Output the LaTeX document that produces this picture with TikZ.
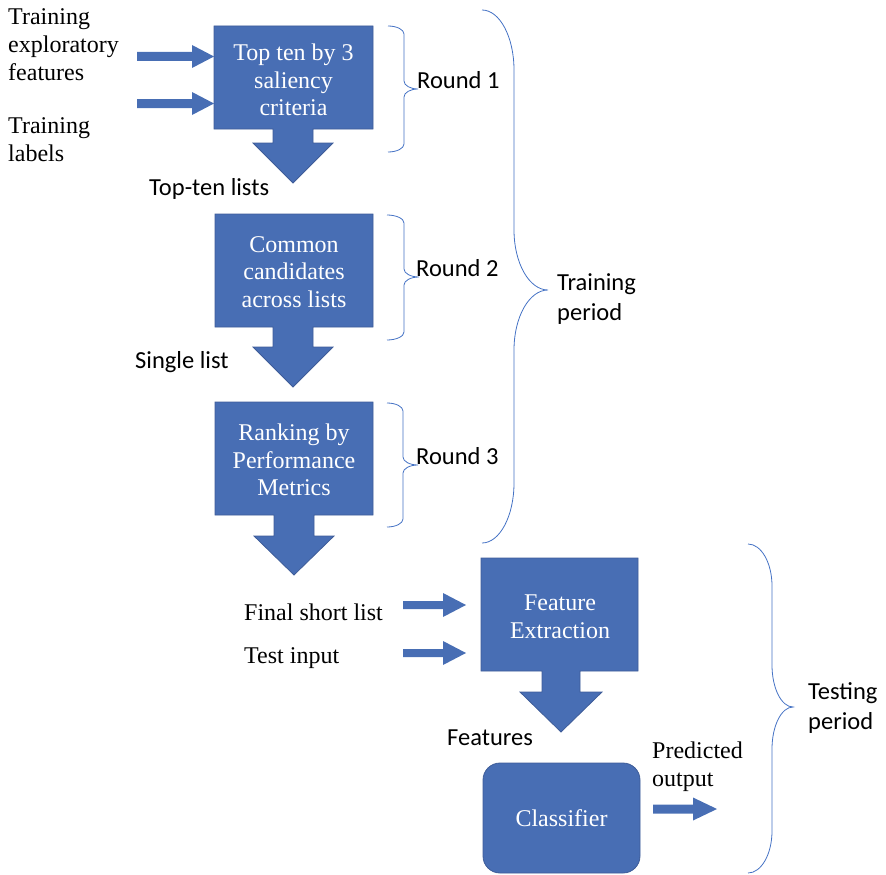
\documentclass[tikz,border=0pt]{standalone}
\usepackage{fontspec}
\setmainfont{Liberation Serif}
\newfontfamily\calibri{Carlito}

\definecolor{boxblue}{RGB}{72,110,180}
\definecolor{boxedge}{RGB}{62,92,152}
\definecolor{bracecol}{RGB}{68,114,196}

\tikzset{
  serif/.style={font=\fontsize{24}{28}\selectfont, inner sep=0pt, align=left},
  sans/.style={font=\calibri\fontsize{24.5}{29.5}\selectfont, inner sep=0pt, align=left},
  boxtext/.style={font=\fontsize{24}{27.5}\selectfont, inner sep=0pt, text=white, align=center},
  fillshape/.style={fill=boxblue, draw=boxedge, line width=0.8pt, line join=miter},
  bracestroke/.style={draw=bracecol, line width=0.8pt},
  roundbox/.style={fillshape, rounded corners=17pt, minimum width=157pt, minimum height=110pt,
    inner sep=0pt, text=white, font=\fontsize{24}{28}\selectfont},
}

% block with a downward arrow: left, right, top, bottom, centre x,
% shaft half width, head half width, head top, tip
\newcommand\calloutshape[9]{%
  \path[fillshape] (#1,#3) -- (#2,#3) -- (#2,#4) -- (#5+#6,#4) -- (#5+#6,#8)
    -- (#5+#7,#8) -- (#5,#9) -- (#5-#7,#8) -- (#5-#6,#8) -- (#5-#6,#4)
    -- (#1,#4) -- cycle;}

% thick right arrow: start x, tip x, centre y, shaft half, head half, head length
\newcommand\feedarrow[6]{%
  \path[fill=boxblue] (#1,#3-#4) -- (#2-#6,#3-#4) -- (#2-#6,#3-#5) -- (#2,#3)
    -- (#2-#6,#3+#5) -- (#2-#6,#3+#4) -- (#1,#3+#4) -- cycle;}

% right curly brace: end x, spine x, tip x, top y, tip y, bottom y, bend
\newcommand\curlybrace[7]{%
  \draw[bracestroke] (#1,#4) .. controls ({#1+0.552*(#2-#1)},#4) and (#2,{#4+0.448*#7}) .. (#2,#4+#7)
    -- (#2,#5-#7) .. controls (#2,{#5-0.448*#7}) and ({#3-0.552*(#3-#2)},#5) .. (#3,#5)
    .. controls ({#3-0.552*(#3-#2)},#5) and (#2,{#5+0.448*#7}) .. (#2,#5+#7)
    -- (#2,#6-#7) .. controls (#2,{#6-0.448*#7}) and ({#1+0.552*(#2-#1)},#6) .. (#1,#6);}

\begin{document}
\begin{tikzpicture}[x=1pt,y=-1pt]
\useasboundingbox (0,0) rectangle (886,875);

% ---- training stages ----
\calloutshape{214}{373}{26}{129}{293}{20}{40}{143}{183}
\node[boxtext] (crit) at (293.5,80) {Top ten by 3\\saliency\\criteria};

\calloutshape{215}{373}{214}{327}{293}{20}{40}{347}{387}
\node[boxtext] (common) at (294,272) {Common\\candidates\\across lists};

\calloutshape{215}{373}{402}{515}{294}{20}{40}{536}{575}
\node[boxtext] (rank) at (294,460) {Ranking by\\Performance\\Metrics};

% inputs to the first stage
\node[serif, anchor=west] (trfeat) at (8,44.5) {Training\\exploratory\\features};
\node[serif, anchor=west] (trlab) at (8,140) {Training\\labels};
\feedarrow{137}{214}{56.5}{4.5}{11.5}{22}
\feedarrow{137}{214}{103.5}{4.5}{11.5}{22}

\node[sans, anchor=west] (topten) at (149,189) {Top-ten lists};
\node[sans, anchor=west] (single) at (135,362) {Single list};

% round braces
\curlybrace{388}{404}{418}{26}{89}{152}{8}
\node[sans, anchor=west] (r1) at (417,80) {Round 1};
\curlybrace{387}{404}{419}{215}{277}{340}{8}
\node[sans, anchor=west] (r2) at (416,268) {Round 2};
\curlybrace{387}{403}{418}{403}{465}{527}{8}
\node[sans, anchor=west] (r3) at (416,456) {Round 3};

\curlybrace{482}{514}{548}{10}{290}{543}{60}
\node[sans, anchor=west] (trperiod) at (557,299) {Training\\period};

% ---- testing stage ----
\calloutshape{481}{638}{558}{671}{561}{19}{41}{692}{732}
\node[boxtext] (fext) at (560,617) {Feature\\Extraction};

\node[serif, anchor=west] (final) at (244,612) {Final short list};
\node[serif, anchor=west] (testin) at (244,658) {Test input};
\feedarrow{403}{466}{605}{4}{12}{23}
\feedarrow{403}{466}{653}{4}{12}{23}

\node[sans, anchor=west] (feat) at (447,738) {Features};

\node[roundbox] (clf) at (561.5,818) {Classifier};

\node[serif, anchor=west] (pred) at (652,767) {Predicted\\output};
\feedarrow{653}{717}{809}{4.5}{11.5}{24}

\curlybrace{748}{772}{793}{544}{707}{873}{42}
\node[sans, anchor=west] (teperiod) at (808,708) {Testing\\period};
\end{tikzpicture}
\end{document}
